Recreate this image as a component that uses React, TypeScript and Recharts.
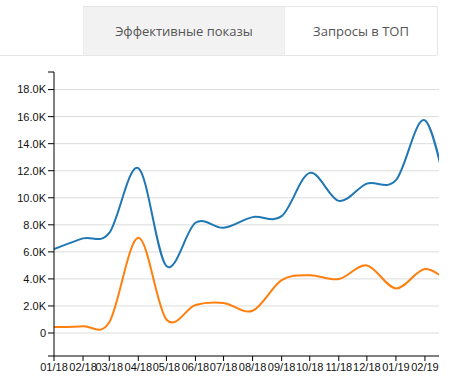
import React from 'react';
import { LineChart, Line, XAxis, YAxis, CartesianGrid } from 'recharts';

const months = ['2018-01', '2018-02', '2018-03', '2018-04', '2018-05', '2018-06', '2018-07', '2018-08', '2018-09', '2018-10', '2018-11', '2018-12', '2019-01', '2019-02', '2019-03'];
const effectiveViews = [6200, 7000, 7400, 12200, 4950, 8150, 7780, 8570, 8640, 11840, 9770, 11050, 11300, 15730, 9000];
const topQueries = [440, 500, 800, 7040, 1000, 2070, 2220, 1650, 3910, 4280, 3990, 5000, 3300, 4730, 3650];
const yTicks = [-1700, 0, 2000, 4000, 6000, 8000, 10000, 12000, 14000, 16000, 18000, 19300];
const gridValues = [0, 2000, 4000, 6000, 8000, 10000, 12000, 14000, 16000, 18000];
const tabLabels = ['Эффективные показы', 'Запросы в ТОП'];

const toTs = (m: string) => {
  const [y, mo] = m.split('-').map(Number);
  return Date.UTC(y, mo - 1, 1);
};

const data = months.map((m, i) => ({ t: toTs(m), a: effectiveViews[i], b: topQueries[i] }));
const xTicks = months.slice(0, 14).map(toTs);
const xDomain = [Date.UTC(2018, 0, 1), Date.UTC(2019, 1, 16)];

const fmtX = (v: number) => {
  const d = new Date(v);
  const mm = String(d.getUTCMonth() + 1).padStart(2, '0');
  const yy = String(d.getUTCFullYear() % 100).padStart(2, '0');
  return `${mm}/${yy}`;
};
const fmtY = (v: number) => {
  if (v < 0 || v > 18000) return '';
  if (v === 0) return '0';
  return (v / 1000).toFixed(1) + 'K';
};

// Cardinal (Catmull-Rom, tension 0) curve factory
const cardinalCurve = (context: any) => {
  let pts: number[][] = [];
  return {
    areaStart() {},
    areaEnd() {},
    lineStart() { pts = []; },
    point(x: number, y: number) { pts.push([+x, +y]); },
    lineEnd() {
      const n = pts.length;
      if (!n) return;
      context.moveTo(pts[0][0], pts[0][1]);
      if (n === 1) return;
      for (let i = 0; i < n - 1; i++) {
        const p0 = pts[Math.max(i - 1, 0)];
        const p1 = pts[i];
        const p2 = pts[i + 1];
        const p3 = pts[Math.min(i + 2, n - 1)];
        const c1x = p1[0] + (p2[0] - p0[0]) / 6;
        const c1y = p1[1] + (p2[1] - p0[1]) / 6;
        const c2x = p2[0] - (p3[0] - p1[0]) / 6;
        const c2y = p2[1] - (p3[1] - p1[1]) / 6;
        context.bezierCurveTo(c1x, c1y, c2x, c2y, p2[0], p2[1]);
      }
    },
  };
};

const tickStyle = { fontFamily: '"Liberation Sans", Arial, sans-serif', fontSize: 11, fill: '#111' };

export default function App() {
  return (
    <div style={{ position: 'absolute', left: 0, top: 0, width: 469, height: 389, background: '#fff', overflow: 'hidden' }}>
      <div style={{ position: 'absolute', left: 0, top: 55, width: 437, height: 1, background: '#e6e6e6' }} />
      <div style={{ position: 'absolute', left: 83, top: 6, width: 201, height: 49, boxSizing: 'border-box', background: '#f2f2f2', borderTop: '1px solid #e6e6e6', borderLeft: '1px solid #ececec', display: 'flex', alignItems: 'center', justifyContent: 'center', fontFamily: '"Open Sans", sans-serif', fontSize: 13, color: '#555' }}>{tabLabels[0]}</div>
      <div style={{ position: 'absolute', left: 284, top: 6, width: 154, height: 49, boxSizing: 'border-box', background: '#fff', borderTop: '1px solid #e6e6e6', borderRight: '1px solid #e6e6e6', borderLeft: '1px solid #ececec', display: 'flex', alignItems: 'center', justifyContent: 'center', fontFamily: '"Open Sans", sans-serif', fontSize: 13, color: '#555' }}>{tabLabels[1]}</div>
      <div style={{ position: 'absolute', left: 0, top: 0, fontFamily: '"Liberation Sans", Arial, sans-serif' }}>
        <LineChart width={469} height={389} data={data} margin={{ top: 72, right: 30, bottom: 0, left: 0 }} style={{ fontFamily: '"Liberation Sans", Arial, sans-serif' }}>
          <CartesianGrid horizontal vertical={false} stroke="#dcdcdc" horizontalValues={gridValues} />
          <XAxis
            dataKey="t"
            type="number"
            domain={xDomain}
            allowDataOverflow
            ticks={xTicks}
            tickFormatter={fmtX}
            interval={0}
            height={33}
            tickSize={5}
            tick={tickStyle}
            stroke="#000"
            tickLine={{ stroke: '#000' }}
            axisLine={{ stroke: '#000' }}
          />
          <YAxis
            type="number"
            domain={[-1700, 19300]}
            allowDataOverflow
            ticks={yTicks}
            tickFormatter={fmtY}
            interval={0}
            width={54}
            tickSize={6}
            tick={tickStyle}
            stroke="#000"
            tickLine={{ stroke: '#000' }}
            axisLine={{ stroke: '#000' }}
          />
          <Line dataKey="a" type={cardinalCurve as any} stroke="#1f77b4" strokeWidth={2} dot={false} activeDot={false} isAnimationActive={false} />
          <Line dataKey="b" type={cardinalCurve as any} stroke="#ff7f0e" strokeWidth={2} dot={false} activeDot={false} isAnimationActive={false} />
        </LineChart>
      </div>
    </div>
  );
}
